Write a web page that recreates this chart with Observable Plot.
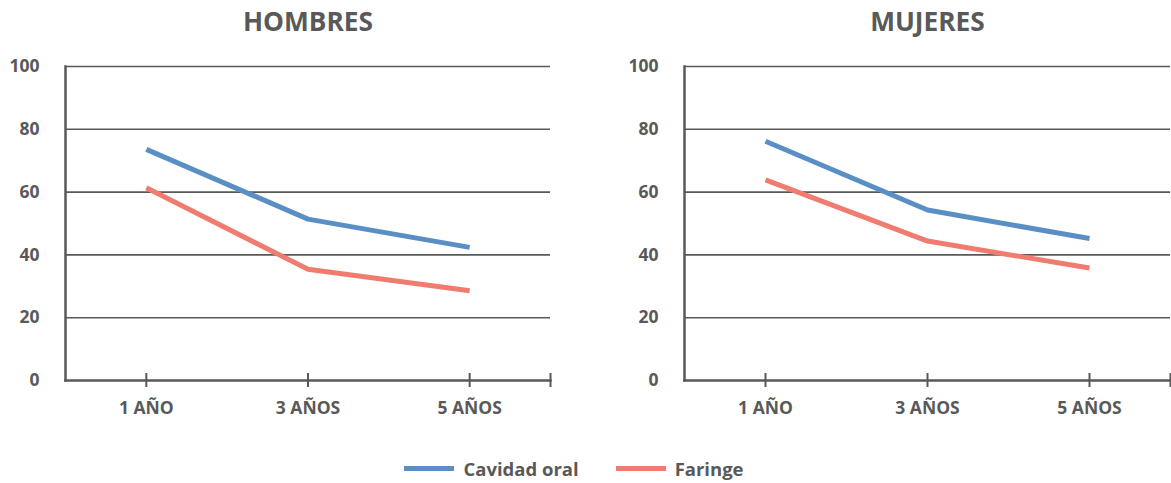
<!DOCTYPE html>
<html>
<head>
<meta charset="utf-8">
<script src="https://cdn.jsdelivr.net/npm/d3@7"></script>
<script src="https://cdn.jsdelivr.net/npm/@observablehq/plot@0.6"></script>
<style>
  html, body { margin: 0; padding: 0; background: #fff; }
  body { width: 1171px; height: 483px; overflow: hidden; font-family: "Open Sans", sans-serif; }
  #charts { display: flex; }
  #legend { display: flex; justify-content: center; align-items: center; gap: 37px; height: 53px; padding-right: 23px; box-sizing: border-box; padding-top: 24px; }
  .item { display: flex; align-items: center; gap: 9px; font-weight: 700; font-size: 18.5px; color: #595959; }
  .sw { width: 50px; height: 5px; }
</style>
</head>
<body>
<div id="charts"></div>
<div id="legend"></div>
<script>
const categories = ["1 AÑO", "3 AÑOS", "5 AÑOS"];
const seriesNames = ["Cavidad oral", "Faringe"];
const seriesColors = ["#5a8fc6", "#f07c70"];
const panelTitles = ["HOMBRES", "MUJERES"];
const hombresCavidad = [73.6, 51.4, 42.4];
const hombresFaringe = [61.4, 35.4, 28.6];
const mujeresCavidad = [76.2, 54.3, 45.2];
const mujeresFaringe = [63.9, 44.4, 35.8];
const yTicks = [0, 20, 40, 60, 80, 100];

const panels = [
  {title: panelTitles[0], series: [hombresCavidad, hombresFaringe], width: 585, marginLeft: 65, marginRight: 35},
  {title: panelTitles[1], series: [mujeresCavidad, mujeresFaringe], width: 586, marginLeft: 99, marginRight: 1}
];

const gray = "#595959";

for (const p of panels) {
  const rows = [];
  p.series.forEach((vals, s) => vals.forEach((v, i) => rows.push({x: i, y: v, s: seriesNames[s]})));
  const idx = categories.map((c, i) => i);
  const chart = Plot.plot({
    width: p.width,
    height: 430,
    marginLeft: p.marginLeft,
    marginRight: p.marginRight,
    marginTop: 66,
    marginBottom: 50,
    style: {fontFamily: "Open Sans", fontWeight: 700, color: gray, background: "#fff"},
    x: {domain: [-0.5, categories.length - 0.5], axis: null},
    y: {domain: [0, 100], axis: null},
    color: {domain: seriesNames, range: seriesColors},
    marks: [
      Plot.ruleY(yTicks.filter(t => t > 0), {stroke: gray, strokeWidth: 1.6}),
      Plot.axisY({ticks: yTicks, tickSize: 0, tickPadding: 26, fontSize: 17.5, fontWeight: 700, fill: gray, label: null}),
      Plot.axisX({ticks: idx, tickFormat: i => categories[i], tickSize: 0, tickPadding: 21, fontSize: 17.5, fontWeight: 700, fill: gray, label: null}),
      Plot.ruleX([...idx, categories.length - 0.5], {y1: 0, y2: 0, insetTop: -7, insetBottom: -7, stroke: gray, strokeWidth: 2}),
      Plot.frame({anchor: "left", stroke: gray, strokeWidth: 2.5}),
      Plot.frame({anchor: "bottom", stroke: gray, strokeWidth: 2.5}),
      Plot.line(rows, {x: "x", y: "y", z: "s", stroke: "s", strokeWidth: 5, strokeLinejoin: "miter", strokeLinecap: "butt"}),
      Plot.text([p.title], {frameAnchor: "top", dy: -54, text: d => d, fontSize: 26.3, fontWeight: 700, fill: gray})
    ]
  });
  document.getElementById("charts").appendChild(chart);
}

const legend = document.getElementById("legend");
seriesNames.forEach((n, i) => {
  const item = document.createElement("div");
  item.className = "item";
  const sw = document.createElement("div");
  sw.className = "sw";
  sw.style.background = seriesColors[i];
  const t = document.createElement("span");
  t.textContent = n;
  item.appendChild(sw);
  item.appendChild(t);
  legend.appendChild(item);
});
</script>
</body>
</html>
